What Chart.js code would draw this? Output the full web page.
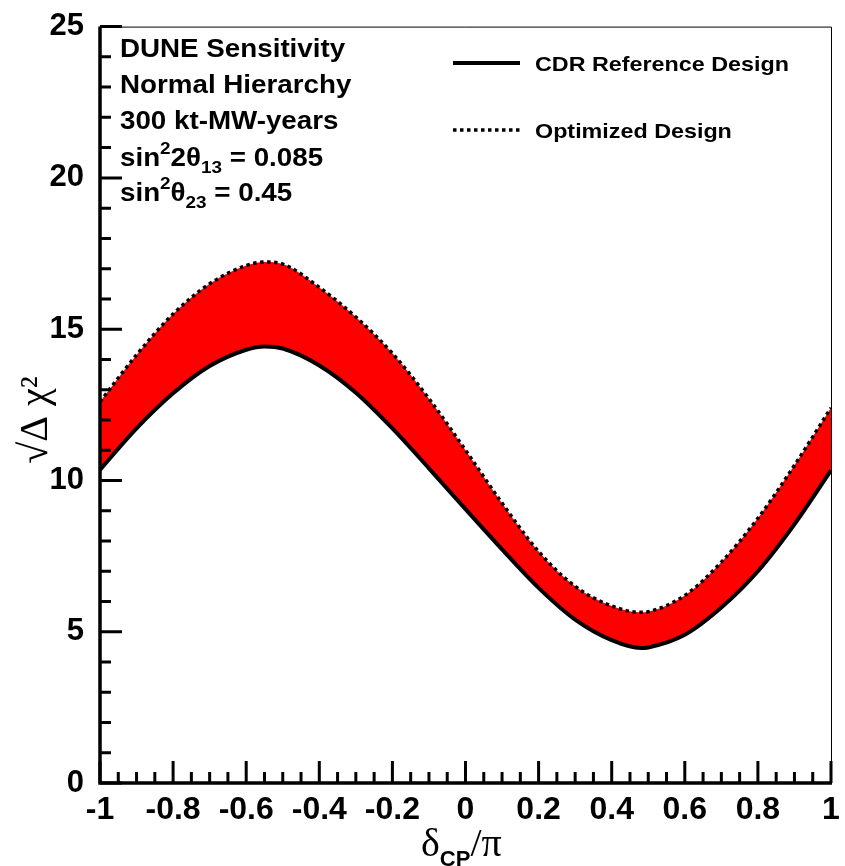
<html>
  <head>
    <style>
      body { margin: 0; background: #fff; }
      #wrap { width: 845px; height: 866px; }
    </style>
  </head>
  <body>
    <div id="wrap"><canvas id="myChart" width="845" height="866"></canvas></div>

    <script src="https://cdn.jsdelivr.net/npm/chart.js"></script>

    <script>
      // delta_CP / pi
      var deltaCP = [-1, -0.9, -0.8, -0.7, -0.6, -0.55, -0.5, -0.4, -0.3, -0.2, -0.1, 0,
                     0.1, 0.2, 0.3, 0.4, 0.48, 0.5, 0.6, 0.7, 0.8, 0.9, 1];
      // sqrt(delta chi^2), CDR reference design (solid)
      var cdrValues = [10.35, 11.72, 12.88, 13.78, 14.32, 14.43, 14.36, 13.8, 12.9, 11.72, 10.4, 9.05,
                       7.72, 6.45, 5.4, 4.72, 4.46, 4.48, 4.9, 5.8, 7.0, 8.55, 10.33];
      // optimized design (dotted)
      var optValues = [12.6, 14.15, 15.5, 16.5, 17.1, 17.22, 17.15, 16.38, 15.4, 14.2, 12.7, 11.0,
                       9.25, 7.65, 6.5, 5.85, 5.64, 5.66, 6.2, 7.3, 8.75, 10.5, 12.4];

      var xTicks = [-1, -0.8, -0.6, -0.4, -0.2, 0, 0.2, 0.4, 0.6, 0.8, 1];
      var xTickLabels = ["-1", "-0.8", "-0.6", "-0.4", "-0.2", "0", "0.2", "0.4", "0.6", "0.8", "1"];
      var yTicks = [0, 5, 10, 15, 20, 25];
      var yTickLabels = ["0", "5", "10", "15", "20", "25"];

      var infoLines = [
        [["DUNE Sensitivity", "n"]],
        [["Normal Hierarchy", "n"]],
        [["300 kt-MW-years", "n"]],
        [["sin", "n"], ["2", "sup"], ["2\u03b8", "n"], ["13", "sub"], [" = 0.085", "n"]],
        [["sin", "n"], ["2", "sup"], ["\u03b8", "n"], ["23", "sub"], [" = 0.45", "n"]],
      ];

      function toPoints(xs, ys) {
        return xs.map((x, i) => ({ x: x, y: ys[i] }));
      }

      // text in the plot looks a bit stretched sideways, like the ROOT output
      var stretch = 1.11;

      function drawRich(ctx, parts, x, y) {
        ctx.save();
        ctx.translate(x, y);
        ctx.scale(stretch, 1);
        var cx = 0;
        for (var p of parts) {
          var txt = p[0], kind = p[1];
          var dy = 0;
          if (kind === "n") {
            ctx.font = "bold 25px 'Liberation Sans'";
          } else {
            ctx.font = "bold 17px 'Liberation Sans'";
            dy = kind === "sup" ? -12 : 7;
          }
          ctx.fillText(txt, cx, dy);
          cx += ctx.measureText(txt).width;
        }
        ctx.restore();
      }

      var rootStyle = {
        id: "rootStyle",
        afterDatasetsDraw(chart) {
          var ctx = chart.ctx;
          var a = chart.chartArea;
          var xs = chart.scales.x, ys = chart.scales.y;
          ctx.save();
          ctx.strokeStyle = "#000";

          // thin frame top/right
          ctx.lineWidth = 1;
          ctx.beginPath();
          ctx.moveTo(a.left, a.top + 0.5);
          ctx.lineTo(a.right + 0.5, a.top + 0.5);
          ctx.lineTo(a.right + 0.5, a.bottom);
          ctx.stroke();

          // ticks
          ctx.lineWidth = 3;
          ctx.beginPath();
          for (var v = 0; v <= 25; v++) {
            var py = ys.getPixelForValue(v);
            var len = v % 5 === 0 ? 22 : 11;
            ctx.moveTo(a.left, py);
            ctx.lineTo(a.left + len, py);
          }
          for (var k = 0; k <= 40; k++) {
            var xv = -1 + k * 0.05;
            var px = xs.getPixelForValue(xv);
            var l2 = k % 4 === 0 ? 22 : 11;
            ctx.moveTo(px, a.bottom);
            ctx.lineTo(px, a.bottom - l2);
          }
          ctx.stroke();

          // thick left / bottom axes
          ctx.lineWidth = 3.5;
          ctx.beginPath();
          ctx.moveTo(a.left, a.top);
          ctx.lineTo(a.left, a.bottom);
          ctx.lineTo(a.right + 1, a.bottom);
          ctx.stroke();
          ctx.restore();
        },
        afterDraw(chart) {
          var ctx = chart.ctx;
          ctx.save();
          ctx.fillStyle = "#000";
          ctx.textAlign = "left";
          ctx.textBaseline = "alphabetic";

          // info text
          var baselines = [57, 93, 129, 166, 201];
          infoLines.forEach((line, i) => drawRich(ctx, line, 120, baselines[i]));

          // legend
          var ds = chart.data.datasets;
          var rows = [
            { d: ds[1], y: 63 },
            { d: ds[0], y: 130 },
          ];
          for (var r of rows) {
            ctx.strokeStyle = "#000";
            ctx.lineWidth = r.d.borderWidth;
            ctx.setLineDash(r.d.borderDash || []);
            ctx.beginPath();
            ctx.moveTo(453, r.y);
            ctx.lineTo(520, r.y);
            ctx.stroke();
            ctx.setLineDash([]);
            ctx.save();
            ctx.translate(535, r.y + 8);
            ctx.scale(stretch, 1);
            ctx.font = "bold 21px 'Liberation Sans'";
            ctx.fillText(r.d.label, 0, 0);
            ctx.restore();
          }

          // x title: delta_CP / pi
          var x = 421;
          ctx.font = "40px 'Liberation Serif'";
          ctx.fillText("\u03b4", x, 856);
          x += ctx.measureText("\u03b4").width;
          ctx.font = "bold 22px 'Liberation Sans'";
          ctx.fillText("CP", x, 866);
          x += ctx.measureText("CP").width;
          ctx.font = "40px 'Liberation Serif'";
          ctx.fillText("/\u03c0", x, 856);

          // y title
          ctx.translate(47, 420);
          ctx.rotate(-Math.PI / 2);
          ctx.textAlign = "center";
          ctx.font = "40px 'Liberation Serif'";
          ctx.fillText("\u221a\u0394 \u03c7\u00b2", 0, 0);
          ctx.restore();
        },
      };

      var data = {
        datasets: [
          {
            label: "Optimized Design",
            data: toPoints(deltaCP, optValues),
            borderColor: "#000",
            borderWidth: 3.5,
            borderDash: [3.5, 3.5],
            backgroundColor: "#ff0000",
            fill: "+1",
            pointRadius: 0,
            cubicInterpolationMode: "monotone",
          },
          {
            label: "CDR Reference Design",
            data: toPoints(deltaCP, cdrValues),
            borderColor: "#000",
            borderWidth: 4,
            fill: false,
            pointRadius: 0,
            cubicInterpolationMode: "monotone",
          },
        ],
      };

      var config = {
        type: "line",
        data: data,
        plugins: [rootStyle],
        options: {
          responsive: false,
          animation: false,
          layout: { padding: { left: 0, right: 14, top: 22, bottom: 0 } },
          plugins: {
            legend: { display: false },
            tooltip: { enabled: false },
            filler: { drawTime: "beforeDatasetsDraw" },
          },
          scales: {
            x: {
              type: "linear",
              min: -1,
              max: 1,
              afterBuildTicks: (s) => { s.ticks = xTicks.map((v) => ({ value: v })); },
              afterFit: (s) => { s.height = 83; },
              grid: { display: false },
              border: { display: false },
              ticks: {
                padding: 0,
                maxRotation: 0,
                autoSkip: false,
                color: "#000",
                font: { family: "'Liberation Sans'", size: 32, weight: "bold" },
                callback: (v) => xTickLabels[xTicks.indexOf(v)],
              },
            },
            y: {
              type: "linear",
              min: 0,
              max: 25,
              afterBuildTicks: (s) => { s.ticks = yTicks.map((v) => ({ value: v })); },
              afterFit: (s) => { s.width = 100; },
              grid: { display: false },
              border: { display: false },
              ticks: {
                padding: 8,
                autoSkip: false,
                color: "#000",
                font: { family: "'Liberation Sans'", size: 31, weight: "bold" },
                callback: (v) => yTickLabels[yTicks.indexOf(v)],
              },
            },
          },
        },
      };

      const myChart = new Chart(document.getElementById("myChart"), config);
    </script>
  </body>
</html>
